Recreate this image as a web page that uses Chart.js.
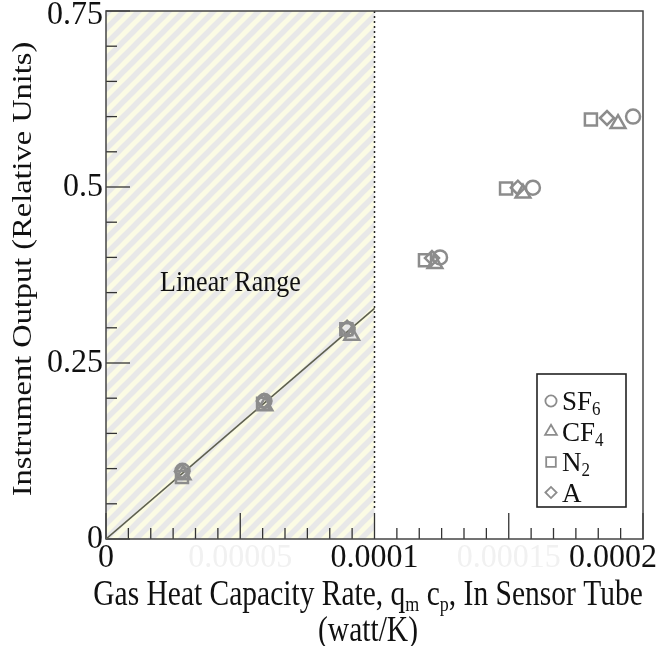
<!DOCTYPE html>
<html lang="en">
<head>
    <meta charset="UTF-8">
    <title>Instrument Output vs Gas Heat Capacity Rate</title>
    <script src="https://cdn.jsdelivr.net/npm/chart.js"></script>
    <style>
        body { margin: 0; background: #fff; }
        #wrap { width: 659px; height: 646px; }
    </style>
</head>
<body>
    <div id="wrap">
        <canvas id="myChart" width="659" height="646"></canvas>
    </div>

    <script>
        // data
        const seriesNames = ['SF6', 'CF4', 'N2', 'A'];
        const sf6X = [2.85e-5, 5.90e-5, 9.00e-5, 1.244e-4, 1.590e-4, 1.963e-4];
        const sf6Y = [0.097, 0.196, 0.298, 0.400, 0.499, 0.600];
        const cf4X = [2.87e-5, 5.92e-5, 9.15e-5, 1.225e-4, 1.553e-4, 1.907e-4];
        const cf4Y = [0.091, 0.189, 0.289, 0.391, 0.491, 0.590];
        const n2X = [2.83e-5, 5.85e-5, 8.95e-5, 1.188e-4, 1.490e-4, 1.806e-4];
        const n2Y = [0.088, 0.192, 0.298, 0.396, 0.498, 0.596];
        const arX = [2.83e-5, 5.88e-5, 8.98e-5, 1.214e-4, 1.534e-4, 1.866e-4];
        const arY = [0.096, 0.196, 0.300, 0.399, 0.499, 0.598];

        // linear fit through the origin, ends at the edge of the linear range
        const fitX = [0, 1e-4];
        const fitY = [0, 0.3275];
        const linearRangeEnd = 1e-4;

        const xTickLabels = ['0', '0.00005', '0.0001', '0.00015', '0.0002'];
        const yTickLabels = ['0', '0.25', '0.5', '0.75'];

        const FONT = '"Liberation Serif", "Times New Roman", serif';
        const MARK = '#8c8c8c';

        const toPts = (xs, ys) => xs.map((x, i) => ({ x: x, y: ys[i] }));

        // diagonal hatch for the linear range
        const makeHatch = (ctx) => {
            const P = 15;
            const c = document.createElement('canvas');
            c.width = P; c.height = P;
            const g = c.getContext('2d');
            g.fillStyle = '#fbfbe4';
            g.fillRect(0, 0, P, P);
            g.strokeStyle = '#e8e8e8';
            g.lineWidth = 5.5;
            [[-P, P, P, -P], [0, P, P, 0], [0, 2 * P, 2 * P, 0]].forEach(l => {
                g.beginPath(); g.moveTo(l[0], l[1]); g.lineTo(l[2], l[3]); g.stroke();
            });
            return ctx.createPattern(c, 'repeat');
        };

        // text with subscripts, stretched a little vertically like the scan
        const drawRuns = (ctx, runs, x, y, size, align, sy, color, baseline) => {
            ctx.save();
            const subSize = Math.round(size * 0.62);
            let total = 0;
            const widths = runs.map(r => {
                ctx.font = (r.sub ? subSize : size) + 'px ' + FONT;
                const w = ctx.measureText(r.t).width;
                total += w;
                return w;
            });
            let sx = x;
            if (align === 'center') sx = x - total / 2;
            if (align === 'right') sx = x - total;
            ctx.translate(sx, y);
            ctx.scale(1, sy);
            ctx.fillStyle = color || '#111';
            ctx.textAlign = 'left';
            ctx.textBaseline = baseline || 'alphabetic';
            let cx = 0;
            runs.forEach((r, i) => {
                ctx.font = (r.sub ? subSize : size) + 'px ' + FONT;
                ctx.fillText(r.t, cx, r.sub ? size * 0.18 : 0);
                cx += widths[i];
            });
            ctx.restore();
            return total;
        };

        const nameRuns = (name) => {
            const m = name.match(/^(\D+)(\d*)$/);
            const runs = [{ t: m[1] }];
            if (m[2]) runs.push({ t: m[2], sub: true });
            return runs;
        };

        const decor = {
            id: 'decor',
            beforeDatasetsDraw(chart) {
                const ctx = chart.ctx;
                const a = chart.chartArea;
                const xs = chart.scales.x, ys = chart.scales.y;
                const xr = xs.getPixelForValue(linearRangeEnd);

                ctx.save();
                ctx.fillStyle = makeHatch(ctx);
                ctx.fillRect(a.left, a.top, xr - a.left, a.bottom - a.top);

                // dotted boundary
                ctx.strokeStyle = '#222';
                ctx.lineWidth = 1.5;
                ctx.setLineDash([2, 3]);
                ctx.beginPath();
                ctx.moveTo(xr, a.top);
                ctx.lineTo(xr, a.bottom - 28);
                ctx.stroke();
                ctx.setLineDash([]);

                // inward ticks
                ctx.strokeStyle = '#333';
                ctx.lineWidth = 1.3;
                const xMinor = 24;
                for (let i = 0; i <= xMinor; i++) {
                    const px = xs.getPixelForValue(xs.min + (xs.max - xs.min) * i / xMinor);
                    const len = i % 6 === 0 ? 26 : 11;
                    ctx.beginPath(); ctx.moveTo(px, a.bottom); ctx.lineTo(px, a.bottom - len); ctx.stroke();
                }
                const yMinor = 15;
                for (let i = 0; i <= yMinor; i++) {
                    const py = ys.getPixelForValue(ys.min + (ys.max - ys.min) * i / yMinor);
                    const len = i % 5 === 0 ? 24 : 11;
                    ctx.beginPath(); ctx.moveTo(a.left, py); ctx.lineTo(a.left + len, py); ctx.stroke();
                }

                // frame
                ctx.strokeStyle = '#444';
                ctx.lineWidth = 1.5;
                ctx.strokeRect(a.left, a.top, a.right - a.left, a.bottom - a.top);
                ctx.restore();
            },
            afterDatasetsDraw(chart) {
                const ctx = chart.ctx;
                const a = chart.chartArea;
                const xs = chart.scales.x, ys = chart.scales.y;
                const TS = 32;

                // tick labels from the scales
                xs.ticks.forEach((t, i) => {
                    let px = xs.getPixelForValue(t.value);
                    ctx.font = TS + 'px ' + FONT;
                    const w = ctx.measureText(xTickLabels[i]).width;
                    if (px + w / 2 > chart.width - 2) px = chart.width - 2 - w / 2;
                    const faint = i % 2 === 1;
                    drawRuns(ctx, [{ t: xTickLabels[i] }], px, a.bottom + 19, TS, 'center', 1.05,
                        faint ? '#f1f1f1' : '#111', 'middle');
                });
                ys.ticks.forEach((t, i) => {
                    const py = Math.max(ys.getPixelForValue(t.value), 15);
                    drawRuns(ctx, [{ t: yTickLabels[i] }], a.left - 3, py, TS, 'right', 1.05, '#111', 'middle');
                });

                // axis titles
                drawRuns(ctx, [
                    { t: 'Gas Heat Capacity Rate, q' }, { t: 'm', sub: true },
                    { t: ' c' }, { t: 'p', sub: true }, { t: ', In Sensor Tube' }
                ], 368, 605, 29.5, 'center', 1.2);
                drawRuns(ctx, [{ t: '(watt/K)' }], 368, 641, 29.5, 'center', 1.2);

                ctx.save();
                ctx.translate(31, 269);
                ctx.rotate(-Math.PI / 2);
                ctx.scale(1.2, 1);
                drawRuns(ctx, [{ t: 'Instrument Output (Relative Units)' }], 0, 0, 27, 'center', 1.0);
                ctx.restore();

                // annotation
                drawRuns(ctx, [{ t: 'Linear Range' }], 160, 291, 26, 'left', 1.1);

                // legend box inside the plot
                const bx = 537, by = 374, bw = 89, bh = 133;
                ctx.save();
                ctx.fillStyle = '#fff';
                ctx.fillRect(bx, by, bw, bh);
                ctx.strokeStyle = '#222';
                ctx.lineWidth = 1.6;
                ctx.strokeRect(bx, by, bw, bh);
                ctx.restore();
                chart.data.datasets.filter(d => d.inLegend).forEach((d, i) => {
                    const ly = 401 + i * 30.5;
                    ctx.save();
                    ctx.strokeStyle = MARK;
                    ctx.fillStyle = 'rgba(0,0,0,0)';
                    ctx.lineWidth = 1.8;
                    Chart.helpers.drawPoint(ctx, {
                        pointStyle: d.pointStyle, rotation: 0,
                        radius: d.pointRadius * 0.8, borderWidth: 1.8
                    }, 551, ly);
                    ctx.restore();
                    drawRuns(ctx, nameRuns(d.label), 562, ly + 9, 27, 'left', 1.05);
                });
            }
        };

        const mk = (label, pts, style, r) => ({
            label: label, data: pts, inLegend: true,
            pointStyle: style, pointRadius: r, pointHoverRadius: r,
            pointBorderColor: MARK, pointBackgroundColor: 'rgba(0,0,0,0)',
            pointBorderWidth: 2.5, showLine: false, order: 1
        });

        const ctx = document.querySelector('#myChart').getContext('2d');
        const myChart = new Chart(ctx, {
            type: 'scatter',
            data: {
                datasets: [
                    {
                        label: 'fit', data: toPts(fitX, fitY), showLine: true,
                        borderColor: '#5e604f', borderWidth: 1.6, pointRadius: 0, order: 10
                    },
                    mk(seriesNames[0], toPts(sf6X, sf6Y), 'circle', 7),
                    mk(seriesNames[1], toPts(cf4X, cf4Y), 'triangle', 8.5),
                    mk(seriesNames[2], toPts(n2X, n2Y), 'rect', 8.5),
                    mk(seriesNames[3], toPts(arX, arY), 'rectRot', 7)
                ]
            },
            options: {
                responsive: false,
                animation: false,
                layout: { padding: { top: 9, right: 16, left: 0, bottom: 0 } },
                plugins: { legend: { display: false }, tooltip: { enabled: false } },
                scales: {
                    x: {
                        type: 'linear', min: 0, max: 0.0002,
                        ticks: { stepSize: 0.00005, display: false },
                        grid: { display: false }, border: { display: false },
                        afterFit: (s) => { s.height = 107; }
                    },
                    y: {
                        min: 0, max: 0.75,
                        ticks: { stepSize: 0.25, display: false },
                        grid: { display: false }, border: { display: false },
                        afterFit: (s) => { s.width = 106; }
                    }
                }
            },
            plugins: [decor]
        });
    </script>
</body>
</html>
